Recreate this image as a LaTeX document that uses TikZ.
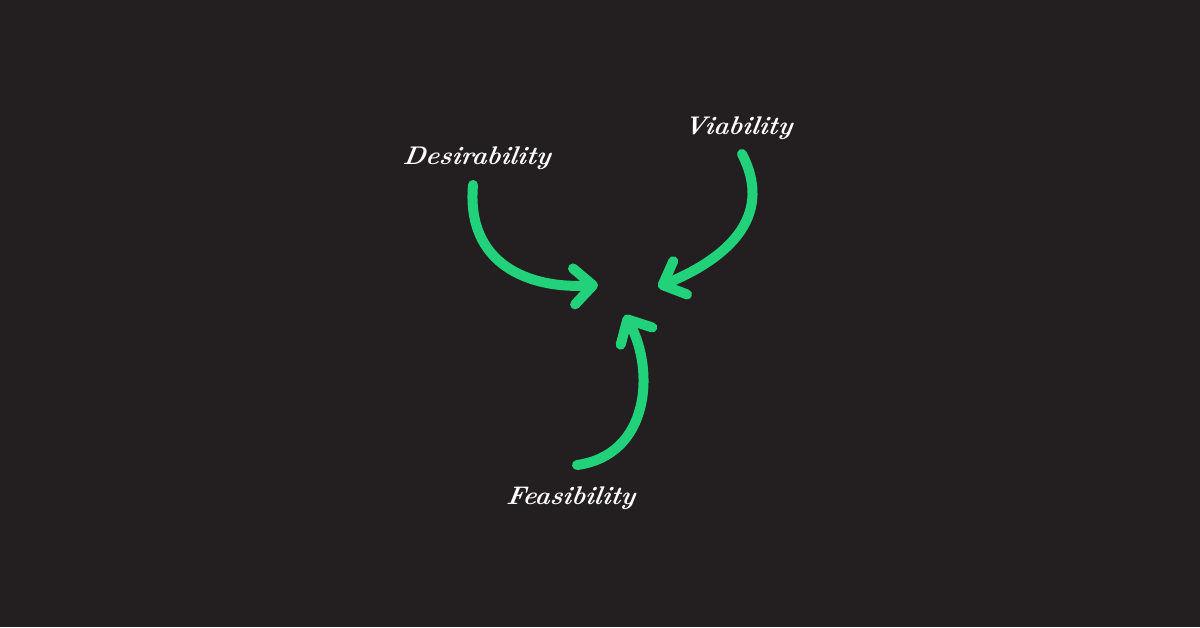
\documentclass[tikz,border=0pt]{standalone}
\usetikzlibrary{arrows.meta}
\definecolor{bg}{HTML}{231F20}
\definecolor{grn}{HTML}{22D27A}
\tikzset{
  lbl/.style={text=white, inner sep=0pt, xslant=0.15, font=\fontsize{25.5}{26}\selectfont\bfseries\itshape},
  arr/.style={draw=grn, line width=10pt, line cap=round, line join=round,
    -{Straight Barb[length=19pt, width=36pt, round]}}
}
\begin{document}
\begin{tikzpicture}[x=1pt,y=-1pt]
\fill[bg] (0,0) rectangle (1200,627);
\useasboundingbox (0,0) rectangle (1200,627);
\node[lbl] (des) at (477,158) {Desirability};
\node[lbl] (via) at (738,128) {Viability};
\node[lbl] (fea) at (571,498) {Feasibility};
\coordinate (s1) at (473,185);
\coordinate (t1) at (598,285);
\coordinate (s2) at (742,154);
\coordinate (t2) at (658,287);
\coordinate (s3) at (577,465);
\coordinate (t3) at (625,315);
\draw[arr] (s1) .. controls (466,265) and (530,289) .. (t1);
\draw[arr] (s2) .. controls (772,212) and (735,255) .. (t2);
\draw[arr] (s3) .. controls (650,455) and (655,370) .. (t3);
\end{tikzpicture}
\end{document}
